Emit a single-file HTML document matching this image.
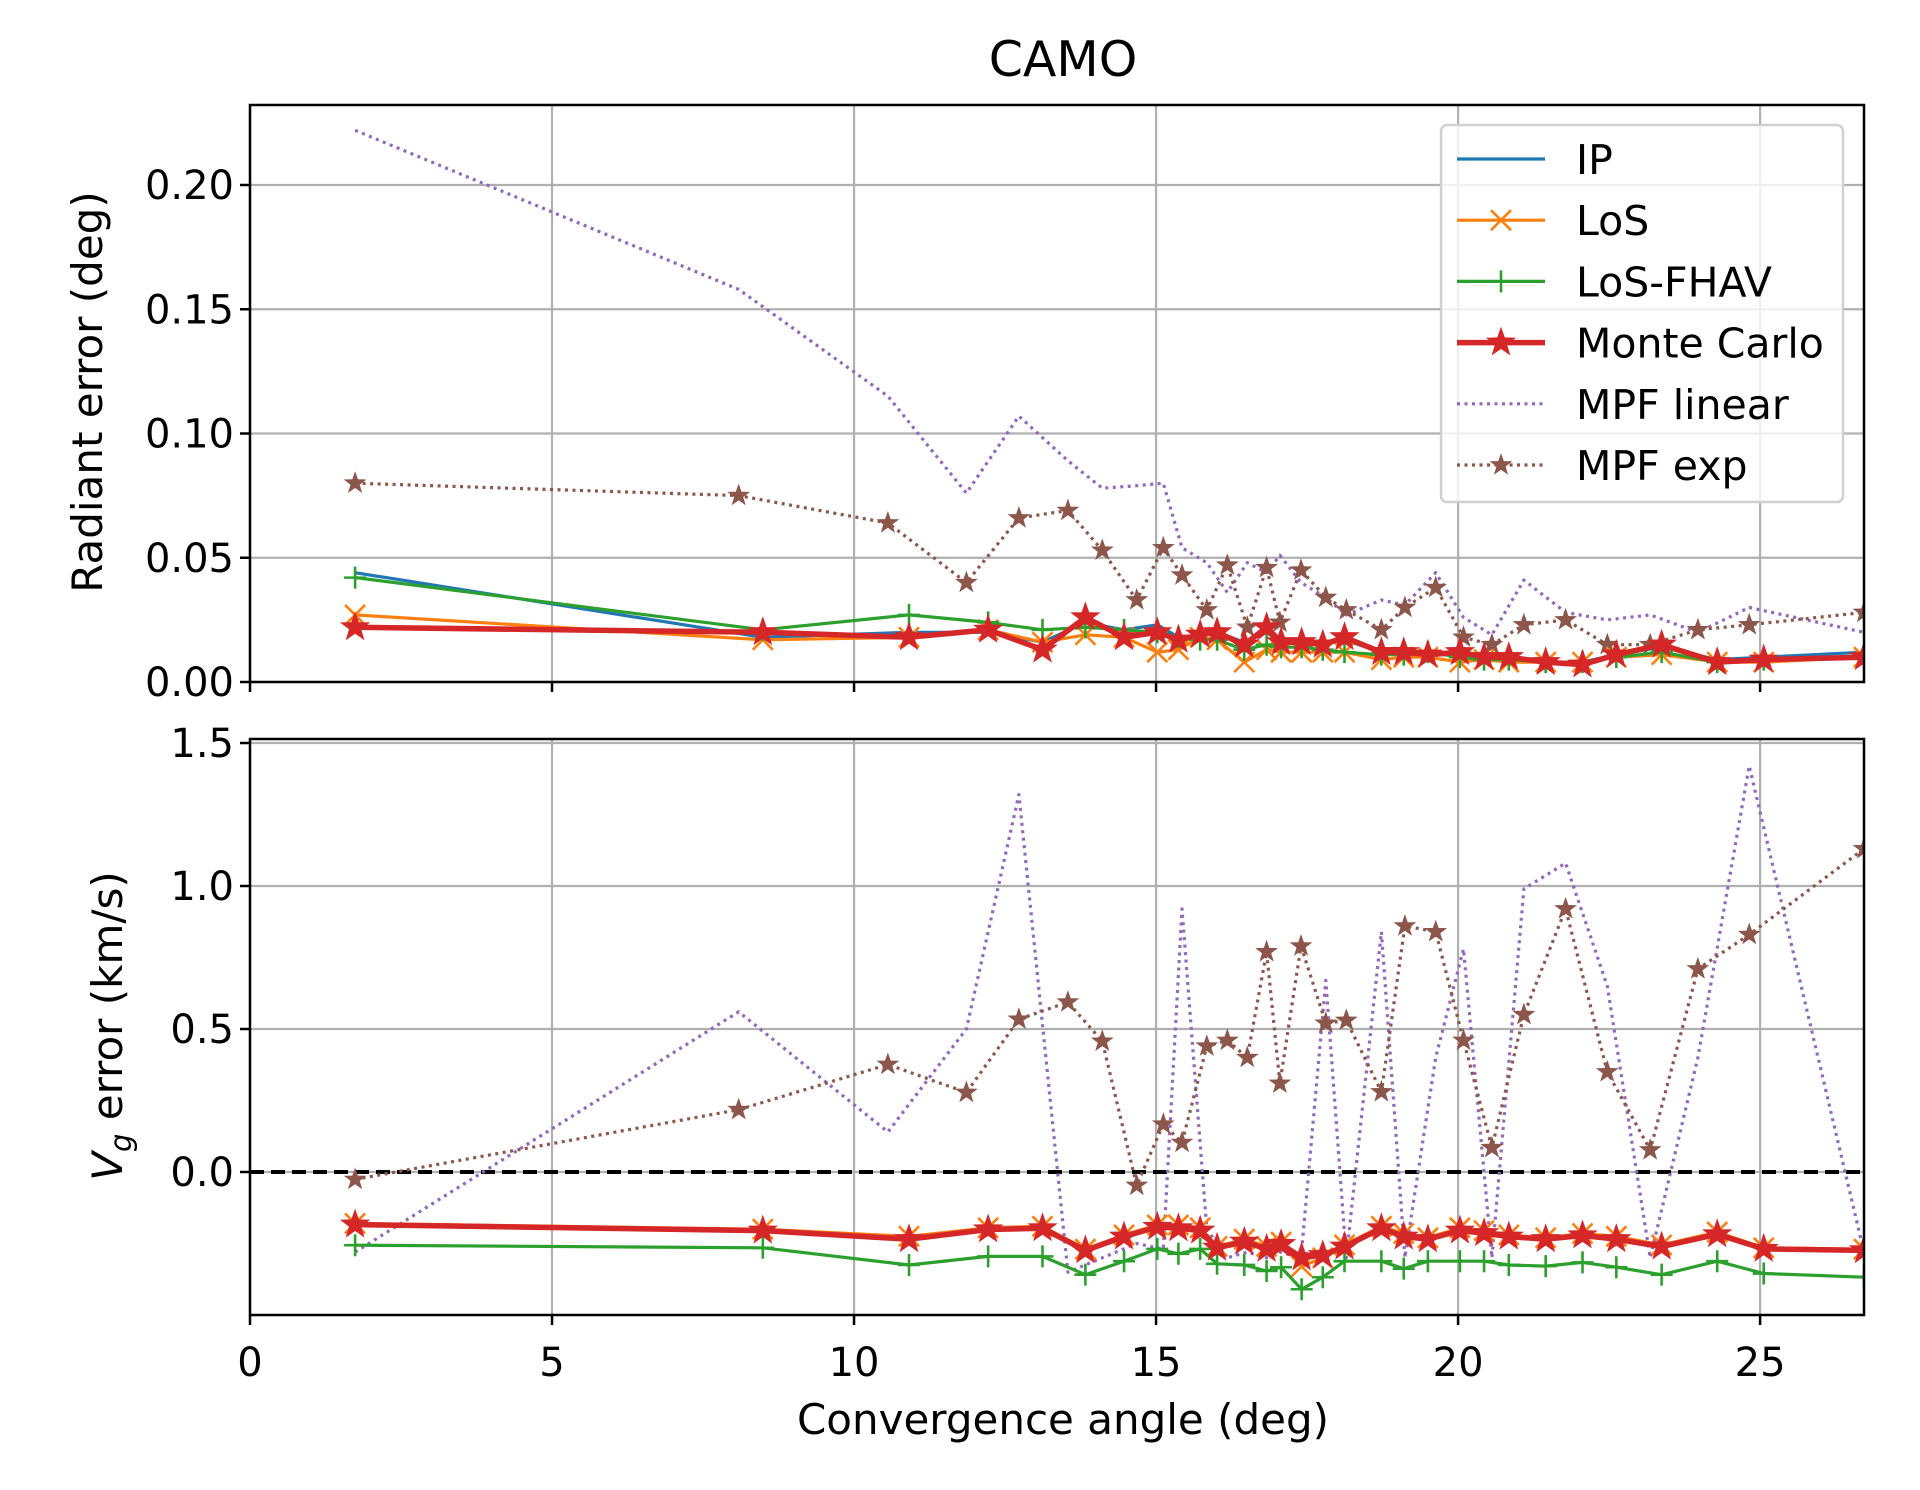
<!DOCTYPE html>
<html><head><meta charset="utf-8"><style>
html,body{margin:0;padding:0;background:#fff;}
svg{display:block;font-family:"DejaVu Sans","Liberation Sans",sans-serif;}
</style></head><body>
<svg id="chart" width="1920" height="1490" viewBox="0 0 1920 1490" xmlns="http://www.w3.org/2000/svg">
<rect width="1920" height="1490" fill="#fff"/>
<text x="1063" y="76" font-size="49" text-anchor="middle">CAMO</text>
<g id="top"></g><g id="bot"></g>
<text transform="translate(102,392) rotate(-90)" font-size="42" text-anchor="middle">Radiant error (deg)</text>
<text transform="translate(122,1026) rotate(-90)" font-size="42" text-anchor="middle"><tspan font-style="italic">V</tspan><tspan font-style="italic" font-size="29" dy="9">g</tspan><tspan dy="-9"> error (km/s)</tspan></text>
<text x="1063" y="1434" font-size="42" text-anchor="middle">Convergence angle (deg)</text>
<g id="legend"></g>
</svg>
<script>
// ---- data ----
const xMC = [1.74,8.49,10.91,12.22,13.12,13.83,14.47,15.02,15.37,15.73,16.01,16.46,16.83,17.07,17.41,17.76,18.12,18.73,19.10,19.50,20.03,20.43,20.84,21.45,22.06,22.62,23.37,24.29,25.06,26.72];
const xMPF = [1.74,8.09,10.56,11.86,12.73,13.54,14.11,14.68,15.12,15.43,15.84,16.18,16.51,16.83,17.05,17.40,17.81,18.15,18.73,19.12,19.63,20.09,20.56,21.09,21.78,22.47,23.18,23.97,24.82,26.72];
const radIP = [0.044,0.018,0.020,0.020,0.016,0.024,0.021,0.023,0.018,0.019,0.020,0.016,0.020,0.016,0.016,0.015,0.017,0.012,0.012,0.012,0.011,0.010,0.010,0.008,0.008,0.011,0.014,0.009,0.010,0.012];
const radLoS = [0.027,0.017,0.018,0.021,0.016,0.019,0.018,0.012,0.013,0.018,0.017,0.008,0.013,0.012,0.012,0.012,0.012,0.009,0.010,0.010,0.008,0.009,0.008,0.008,0.008,0.010,0.011,0.008,0.008,0.010];
const radFHAV = [0.042,0.021,0.027,0.024,0.021,0.022,0.021,0.020,0.018,0.017,0.017,0.013,0.015,0.014,0.014,0.013,0.012,0.011,0.011,0.012,0.010,0.009,0.009,0.008,0.008,0.010,0.012,0.008,0.009,0.010];
const radMC = [0.022,0.020,0.018,0.021,0.013,0.026,0.018,0.020,0.017,0.019,0.020,0.015,0.022,0.016,0.016,0.015,0.018,0.012,0.012,0.011,0.012,0.010,0.010,0.008,0.007,0.011,0.015,0.008,0.009,0.010];
const radLin = [0.222,0.158,0.115,0.076,0.107,0.089,0.078,0.079,0.080,0.054,0.048,0.036,0.048,0.044,0.051,0.040,0.034,0.027,0.033,0.031,0.044,0.026,0.019,0.041,0.028,0.025,0.027,0.020,0.030,0.020];
const radExp = [0.080,0.075,0.064,0.040,0.066,0.069,0.053,0.033,0.054,0.043,0.029,0.047,0.022,0.046,0.024,0.045,0.034,0.029,0.021,0.030,0.038,0.018,0.015,0.023,0.025,0.015,0.015,0.021,0.023,0.028];
const vgMC = [-0.184,-0.205,-0.235,-0.201,-0.197,-0.274,-0.226,-0.192,-0.197,-0.205,-0.265,-0.244,-0.269,-0.252,-0.299,-0.291,-0.261,-0.197,-0.226,-0.235,-0.205,-0.214,-0.226,-0.235,-0.222,-0.235,-0.261,-0.218,-0.269,-0.274];
const vgIP = [-0.186,-0.207,-0.236,-0.203,-0.199,-0.276,-0.228,-0.194,-0.199,-0.207,-0.267,-0.246,-0.271,-0.254,-0.301,-0.293,-0.263,-0.199,-0.228,-0.237,-0.207,-0.216,-0.228,-0.237,-0.224,-0.237,-0.263,-0.220,-0.271,-0.276];
const vgLoS = [-0.180,-0.200,-0.225,-0.195,-0.190,-0.270,-0.220,-0.185,-0.185,-0.195,-0.260,-0.235,-0.260,-0.245,-0.330,-0.300,-0.255,-0.190,-0.215,-0.230,-0.195,-0.205,-0.220,-0.230,-0.215,-0.225,-0.255,-0.210,-0.265,-0.270];
const vgFHAV = [-0.256,-0.265,-0.325,-0.295,-0.295,-0.359,-0.312,-0.269,-0.286,-0.269,-0.321,-0.325,-0.346,-0.333,-0.410,-0.368,-0.312,-0.312,-0.338,-0.312,-0.312,-0.312,-0.325,-0.329,-0.316,-0.333,-0.359,-0.312,-0.355,-0.368];
const vgLin = [-0.28,0.56,0.14,0.50,1.32,-0.35,-0.30,-0.25,-0.27,0.92,-0.20,-0.30,-0.28,-0.30,-0.28,-0.30,0.67,-0.30,0.84,-0.30,0.40,0.78,-0.30,0.99,1.08,0.65,-0.30,0.40,1.42,-0.28];
const vgExp = [-0.026,0.218,0.376,0.278,0.534,0.594,0.457,-0.047,0.167,0.103,0.44,0.46,0.40,0.77,0.31,0.79,0.52,0.53,0.28,0.86,0.84,0.46,0.085,0.55,0.92,0.35,0.077,0.71,0.83,1.13];
const xTicks = [0,5,10,15,20,25];
const topTicks = [0,0.05,0.10,0.15,0.20];
const topTickLabels = ["0.00","0.05","0.10","0.15","0.20"];
const botTicks = [0,0.5,1.0,1.5];
const botTickLabels = ["0.0","0.5","1.0","1.5"];

const NS="http://www.w3.org/2000/svg";
const L=250,R=1864,XMAX=26.72;
const sx=v=>L+(R-L)*v/XMAX;
const topY={t:105,b:682,min:0,max:0.2322};
const botY={t:739,b:1315,min:-0.5,max:1.514};
const mk=(ax)=>v=>ax.b-(ax.b-ax.t)*(v-ax.min)/(ax.max-ax.min);
function el(tag,attrs,parent){const e=document.createElementNS(NS,tag);for(const k in attrs)e.setAttribute(k,attrs[k]);parent.appendChild(e);return e;}
function starPts(cx,cy,r){let p=[];for(let i=0;i<10;i++){const a=-Math.PI/2+i*Math.PI/5;const rr=i%2?r*0.4:r;p.push((cx+rr*Math.cos(a)).toFixed(1)+","+(cy+rr*Math.sin(a)).toFixed(1));}return p.join(" ");}
function marker(g,type,x,y,color,size){
  if(type==="star"){return el("polygon",{points:starPts(x,y,size),fill:color},g);}
  if(type==="x"){const s=size;return el("path",{d:`M${x-s} ${y-s}L${x+s} ${y+s}M${x-s} ${y+s}L${x+s} ${y-s}`,stroke:color,"stroke-width":2.6},g);}
  if(type==="plus"){const s=size;return el("path",{d:`M${x-s} ${y}L${x+s} ${y}M${x} ${y-s}L${x} ${y+s}`,stroke:color,"stroke-width":2.6},g);}
}
function series(g,name,xs,ys,sy,color,w,dash,mtype,msize){
  const sg=el("g",{},g);
  
  
  const pts=xs.map((x,i)=>sx(x).toFixed(1)+","+sy(ys[i]).toFixed(1)).join(" ");
  const a={points:pts,fill:"none",stroke:color,"stroke-width":w,"stroke-linejoin":"round"};
  if(dash)a["stroke-dasharray"]=dash;
  el("polyline",a,sg);
  if(mtype)xs.forEach((x,i)=>{const m=marker(sg,mtype,sx(x),sy(ys[i]),color,msize);
    
    });
}
function axes(gid,ax,ticks,labels,showX,zeroLine){
  const g=document.getElementById(gid);const sy=mk(ax);
  const clipId=gid+"clip";
  const cp=el("clipPath",{id:clipId},g);el("rect",{x:L,y:ax.t,width:R-L,height:ax.b-ax.t},cp);
  xTicks.forEach(t=>{const gl=el("line",{x1:sx(t),x2:sx(t),y1:ax.t,y2:ax.b,stroke:"#b0b0b0","stroke-width":2.2},g);
    
    el("line",{x1:sx(t),x2:sx(t),y1:ax.b,y2:ax.b+10,stroke:"#000","stroke-width":2.5},g);
    if(showX){const tx=el("text",{x:sx(t),y:ax.b+61,"font-size":40,"text-anchor":"middle"},g);tx.textContent=t;
      }});
  ticks.forEach((t,i)=>{const y=sy(t);const gl=el("line",{x1:L,x2:R,y1:y,y2:y,stroke:"#b0b0b0","stroke-width":2.2},g);
    
    el("line",{x1:L-10,x2:L,y1:y,y2:y,stroke:"#000","stroke-width":2.5},g);
    const tx=el("text",{x:L-16,y:y+14,"font-size":40,"text-anchor":"end"},g);tx.textContent=labels[i];
    });
  const pg=el("g",{"clip-path":`url(#${clipId})`},g);
  if(zeroLine){const z=el("line",{x1:L,x2:R,y1:sy(0),y2:sy(0),stroke:"#000","stroke-width":4,"stroke-dasharray":"14,7"},pg);
    }
  return {pg,sy,g};
}
const A=axes("top",topY,topTicks,topTickLabels,false,false);
const B=axes("bot",botY,botTicks,botTickLabels,true,true);
function draw(ax,d){
  series(ax.pg,"mpf-linear",xMPF,d.lin,ax.sy,"#9467bd",3.2,"3,4.5",null,0);
  series(ax.pg,"mpf-exp",xMPF,d.exp,ax.sy,"#8c564b",3.2,"3,4.5","star",12);
  series(ax.pg,"ip",xMC,d.ip,ax.sy,"#1f77b4",3.2,null,null,0);
  series(ax.pg,"los",xMC,d.los,ax.sy,"#ff7f0e",3.2,null,"x",10);
  series(ax.pg,"los-fhav",xMC,d.fhav,ax.sy,"#2ca02c",3.2,null,"plus",11);
  series(ax.pg,"monte-carlo",xMC,d.mc,ax.sy,"#d62728",5.5,null,"star",16);
}
draw(A,{lin:radLin,exp:radExp,ip:radIP,los:radLoS,fhav:radFHAV,mc:radMC});
draw(B,{lin:vgLin,exp:vgExp,ip:vgIP,los:vgLoS,fhav:vgFHAV,mc:vgMC});
[[A.g,topY],[B.g,botY]].forEach(([g,ax])=>{const f=el("rect",{x:L,y:ax.t,width:R-L,height:ax.b-ax.t,fill:"none",stroke:"#000","stroke-width":2.5},g);
  });
// legend
const lg=document.getElementById("legend");


el("rect",{x:1441,y:125,width:402,height:377,rx:6,fill:"#fff","fill-opacity":0.8,stroke:"#d0d0d0","stroke-width":2.5},lg);
const entries=[["IP","#1f77b4",3.2,null,null,0],["LoS","#ff7f0e",3.2,null,"x",10],["LoS-FHAV","#2ca02c",3.2,null,"plus",11],["Monte Carlo","#d62728",5.5,null,"star",16],["MPF linear","#9467bd",3.2,"3,4.5",null,0],["MPF exp","#8c564b",3.2,"3,4.5","star",12]];
entries.forEach((e,i)=>{const y=159+i*61.2;const g=el("g",{},lg);
  
  
  const a={x1:1457,x2:1545,y1:y,y2:y,stroke:e[1],"stroke-width":e[2]};if(e[3])a["stroke-dasharray"]=e[3];el("line",a,g);
  if(e[4])marker(g,e[4],1501,y,e[1],e[5]);
  const t=el("text",{x:1576,y:y+15,"font-size":41},g);t.textContent=e[0];});
</script>
</body></html>
